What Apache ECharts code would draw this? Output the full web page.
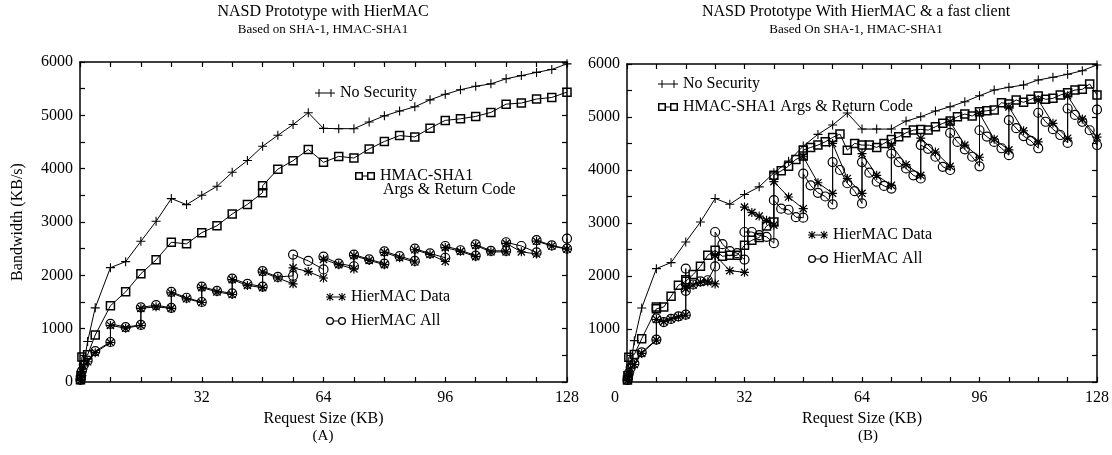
<!DOCTYPE html>
<html>
<head>
<meta charset="utf-8">
<script src="https://cdn.jsdelivr.net/npm/echarts@6/dist/echarts.min.js"></script>
<style>
  html, body { margin: 0; padding: 0; background: #fff; }
  #chart { width: 1112px; height: 455px; }
</style>
</head>
<body>
<div id="chart"></div>
<script>
// request size (KB) vs bandwidth (KB/s)
const noSecA = [[0.25,40],[0.5,120],[1,330],[2,760],[4,1390],[8,2144],[12,2257],[16,2638],[20,3013],[24,3439],[28,3326],[32,3501],[36,3669],[40,3932],[44,4152],[48,4420],[52,4626],[56,4827],[60,5050],[64,4755],[68,4750],[72,4750],[76,4875],[80,4990],[84,5080],[88,5160],[92,5290],[96,5395],[100,5480],[104,5545],[108,5590],[112,5685],[116,5745],[120,5805],[124,5860],[128,5965]];
const hmacA = [[0.125,40],[0.25,120],[0.5,470],[2,510],[4,880],[8,1430],[12,1690],[16,2030],[20,2290],[24,2620],[28,2590],[32,2800],[36,2930],[40,3150],[44,3330],[48,3550],[48,3680],[52,3990],[56,4150],[60,4360],[64,4120],[68,4230],[72,4200],[76,4370],[80,4510],[84,4620],[88,4595],[92,4760],[96,4905],[100,4935],[104,4980],[108,5055],[112,5210],[116,5230],[120,5305],[124,5335],[128,5435]];
const hierDataA = [[0.125,30],[0.25,80],[0.5,190],[1,300],[2,380],[4,550],[8,740],[8,1060],[12,1010],[16,1060],[16,1380],[20,1410],[24,1380],[24,1670],[28,1560],[32,1490],[32,1770],[36,1690],[40,1640],[40,1920],[44,1810],[48,1770],[48,2060],[52,1950],[56,1840],[56,2140],[60,2070],[64,1950],[64,2300],[68,2200],[72,2120],[72,2370],[76,2280],[80,2200],[80,2430],[84,2330],[88,2250],[88,2480],[92,2390],[96,2260],[96,2520],[100,2450],[104,2350],[104,2560],[108,2440],[112,2440],[112,2600],[116,2440],[120,2400],[120,2640],[124,2550],[128,2490]];
const hierAllA = [[0.125,40],[0.25,100],[0.5,210],[1,320],[2,400],[4,580],[8,750],[8,1090],[12,1030],[16,1070],[16,1400],[20,1440],[24,1390],[24,1690],[28,1580],[32,1500],[32,1790],[36,1710],[40,1660],[40,1940],[44,1840],[48,1790],[48,2080],[52,1970],[56,1990],[56,2390],[60,2270],[64,2110],[64,2350],[68,2220],[72,2170],[72,2390],[76,2300],[80,2220],[80,2450],[84,2360],[88,2270],[88,2500],[92,2410],[96,2330],[96,2550],[100,2470],[104,2370],[104,2580],[108,2460],[112,2460],[112,2620],[116,2550],[120,2430],[120,2660],[124,2560],[128,2500],[128,2690]];

const noSecB = [[0.25,40],[0.5,120],[1,330],[2,780],[4,1395],[8,2139],[12,2253],[16,2642],[20,3020],[24,3462],[28,3355],[32,3538],[36,3682],[40,3946],[44,4167],[48,4451],[52,4672],[56,4848],[60,5075],[64,4772],[68,4772],[72,4772],[76,4923],[80,5005],[84,5112],[88,5194],[92,5288],[96,5402],[100,5509],[104,5560],[108,5604],[112,5698],[116,5749],[120,5806],[124,5874],[128,5982]];
const hmacB = [[0.125,40],[0.25,120],[0.5,469],[2,520],[4,816],[8,1380],[8,1414],[10,1414],[12,1616],[14,1824],[16,1900],[16,1931],[18,2026],[20,2183],[22,2391],[24,2485],[26,2372],[28,2391],[30,2391],[32,2580],[34,2674],[36,2725],[38,2945],[40,3020],[40,3903],[42,3984],[44,4073],[46,4200],[48,4262],[48,4375],[50,4426],[52,4470],[54,4532],[56,4615],[58,4678],[60,4375],[62,4502],[64,4470],[66,4470],[68,4426],[70,4502],[72,4577],[74,4627],[76,4702],[78,4753],[80,4766],[82,4753],[84,4816],[86,4880],[88,4923],[90,5005],[92,5056],[94,5018],[96,5099],[98,5118],[100,5131],[102,5269],[104,5245],[106,5320],[108,5277],[110,5333],[112,5396],[114,5333],[116,5352],[118,5415],[120,5458],[122,5509],[124,5522],[126,5623],[128,5415]];
const hierDataB = [[0.125,30],[0.25,80],[0.5,150],[1,250],[2,330],[4,540],[8,790],[8,1180],[10,1140],[12,1190],[14,1230],[16,1260],[16,1760],[18,1830],[20,1880],[22,1890],[24,1850],[24,2390],[28,2100],[32,2070],[32,3300],[34,3200],[36,3130],[38,3050],[40,2960],[40,3780],[44,3490],[48,3270],[48,4250],[52,3760],[56,3560],[56,4500],[60,3840],[64,3560],[64,4310],[68,3900],[72,3710],[72,4470],[76,4100],[80,3900],[80,4600],[84,4340],[88,4070],[88,4910],[92,4470],[96,4240],[96,5070],[100,4580],[104,4380],[104,5190],[108,4740],[112,4530],[112,5320],[116,4880],[120,4600],[120,5400],[124,4960],[128,4620]];
const hierAllB = [[0.125,40],[0.25,90],[0.5,170],[1,270],[2,350],[4,560],[8,800],[8,1200],[10,1130],[12,1190],[14,1240],[16,1270],[16,2140],[16,1720],[18,1840],[20,1900],[22,1920],[24,2180],[24,2830],[26,2600],[28,2470],[30,2430],[32,2310],[32,2830],[34,2830],[36,2770],[38,2740],[40,2620],[40,3430],[42,3270],[44,3250],[46,3110],[48,3100],[48,3930],[50,3710],[52,3570],[54,3500],[56,3350],[56,4150],[58,4000],[60,3750],[62,3600],[64,3370],[64,4150],[66,3950],[68,3780],[70,3700],[72,3650],[72,4310],[74,4150],[76,4030],[78,3900],[80,3840],[80,4470],[82,4400],[84,4250],[86,4060],[88,4000],[88,4700],[90,4530],[92,4390],[94,4250],[96,4070],[96,4750],[98,4630],[100,4530],[102,4410],[104,4280],[104,4940],[106,4790],[108,4640],[110,4550],[112,4410],[112,5080],[114,4910],[116,4770],[118,4660],[120,4510],[120,5160],[122,5040],[124,4910],[126,4750],[128,4470],[128,5140]];

const FONT = "Liberation Serif";
const plusPath = "path://M4.4 0H5.6V4.4H10V5.6H5.6V10H4.4V5.6H0V4.4H4.4Z";
const starPath = "path://M0 4.35H10V5.65H0Z M4.35 0H5.65V10H4.35Z M1.5 0.5L9.5 8.5L8.5 9.5L0.5 1.5Z M8.5 0.5L9.5 1.5L1.5 9.5L0.5 8.5Z";
// legend keys: two symbols joined by a short line
const keyPlus = "path://M3.5 0H4.5V3.5H8V4.5H4.5V8H3.5V4.5H0V3.5H3.5Z M8 3.6H12V4.4H8Z M15.5 0H16.5V3.5H20V4.5H16.5V8H15.5V4.5H12V3.5H15.5Z";
const keyRect = "path://M0 0H8V8H0Z M1.5 1.5V6.5H6.5V1.5Z M8 3.6H12V4.4H8Z M12 0H20V8H12Z M13.5 1.5V6.5H18.5V1.5Z";
const keyStar = "path://M0 3.45H8V4.55H0Z M3.45 0H4.55V8H3.45Z M1.2 0.4L7.6 6.8L6.8 7.6L0.4 1.2Z M6.8 0.4L7.6 1.2L1.2 7.6L0.4 6.8Z M8 3.6H12V4.4H8Z M12 3.45H20V4.55H12Z M15.45 0H16.55V8H15.45Z M13.2 0.4L19.6 6.8L18.8 7.6L12.4 1.2Z M18.8 0.4L19.6 1.2L13.2 7.6L12.4 6.8Z";
const keyCircle = "path://M0 4A4 4 0 1 1 8 4A4 4 0 1 1 0 4Z M1.3 4A2.7 2.7 0 1 0 6.7 4A2.7 2.7 0 1 0 1.3 4Z M8 3.6H12V4.4H8Z M12 4A4 4 0 1 1 20 4A4 4 0 1 1 12 4Z M13.3 4A2.7 2.7 0 1 0 18.7 4A2.7 2.7 0 1 0 13.3 4Z";

const NAMES = ["No Security", "HMAC-SHA1 Args & Return Code", "HierMAC Data", "HierMAC All"];

// hollow symbols get a see-through fill so overlapping marks stay visible
function makeSeries(name, data, symbol, size, border, axis, hollow) {
  return {
    type: "line",
    name: name,
    data: data,
    xAxisIndex: axis,
    yAxisIndex: axis,
    symbol: symbol,
    symbolSize: size,
    clip: false,
    lineStyle: { color: "#000", width: 1 },
    itemStyle: { color: hollow ? "rgba(255,255,255,0)" : "#000", borderColor: "#000", borderWidth: border },
    emphasis: { disabled: true },
  };
}

function xAxisDef(grid, top, showZero) {
  return {
    type: "value",
    gridIndex: grid,
    position: top ? "top" : "bottom",
    min: 0,
    max: 128,
    interval: 32,
    name: top ? "" : "Request Size (KB)",
    nameLocation: "middle",
    nameGap: 26,
    nameTextStyle: { fontFamily: FONT, fontSize: 16, color: "#000" },
    axisLine: { show: true, onZero: false, lineStyle: { color: "#000", width: 1.5 } },
    axisTick: { show: true, inside: true, length: 5, lineStyle: { color: "#000", width: 1.2 } },
    minorTick: { show: true, splitNumber: 4, length: 5, lineStyle: { color: "#000", width: 1.2 } },
    splitLine: { show: false },
    axisLabel: {
      show: !top,
      fontFamily: FONT,
      fontSize: 16,
      color: "#000",
      margin: 8,
      formatter: (v) => (v === 0 ? (showZero ? "{z|0}" : "") : String(v)),
      rich: { z: { fontFamily: FONT, fontSize: 16, color: "#000", padding: [0, 24, 0, 0] } },
    },
  };
}

function yAxisDef(grid, right, showZero, name) {
  return {
    type: "value",
    gridIndex: grid,
    position: right ? "right" : "left",
    min: 0,
    max: 6000,
    interval: 1000,
    name: name || "",
    nameLocation: "middle",
    nameGap: 54,
    nameTextStyle: { fontFamily: FONT, fontSize: 16, color: "#000" },
    axisLine: { show: true, onZero: false, lineStyle: { color: "#000", width: 1.5 } },
    axisTick: { show: true, inside: true, length: 5, lineStyle: { color: "#000", width: 1.2 } },
    minorTick: { show: true, splitNumber: 2, length: 5, lineStyle: { color: "#000", width: 1.2 } },
    splitLine: { show: false },
    axisLabel: {
      show: !right,
      fontFamily: FONT,
      fontSize: 16,
      color: "#000",
      margin: 7,
      formatter: (v) => (v === 0 && !showZero ? "" : String(v)),
    },
  };
}

function legendAt(name, icon, left, top, label) {
  return {
    data: [{ name: name, icon: icon }],
    left: left,
    top: top,
    padding: 0,
    itemWidth: 20,
    itemHeight: 8,
    itemGap: 0,
    selectedMode: false,
    itemStyle: { color: "#000", borderWidth: 0 },
    formatter: label ? () => label : undefined,
    textStyle: { fontFamily: FONT, fontSize: 16, color: "#000", padding: [0, 0, 0, 0] },
  };
}

const chart = echarts.init(document.getElementById("chart"));
const option = {
  animation: false,
  backgroundColor: "#fff",
  textStyle: { fontFamily: FONT },
  grid: [
    { left: 80, right: 545, top: 62, bottom: 73 },
    { left: 627, right: 3, top: 64, bottom: 73 },
  ],
  xAxis: [xAxisDef(0, false, false), xAxisDef(0, true, false), xAxisDef(1, false, true), xAxisDef(1, true, true)],
  yAxis: [yAxisDef(0, false, true, "Bandwidth (KB/s)"), yAxisDef(0, true, true), yAxisDef(1, false, false), yAxisDef(1, true, false)],
  legend: [
    legendAt(NAMES[0], keyPlus, 315, 85),
    legendAt(NAMES[1], keyRect, 355, 168, "HMAC-SHA1"),
    legendAt(NAMES[2], keyStar, 326, 289),
    legendAt(NAMES[3], keyCircle, 326, 313),
    legendAt(NAMES[0], keyPlus, 658, 76),
    legendAt(NAMES[1], keyRect, 658, 99),
    legendAt(NAMES[2], keyStar, 808, 227),
    legendAt(NAMES[3], keyCircle, 808, 251),
  ],
  graphic: [
    { type: "text", left: 383, top: 182, style: { text: "Args & Return Code", font: "16px " + FONT, fill: "#000" } },
    { type: "text", x: 323, y: 4, style: { text: "NASD Prototype with HierMAC", font: "16px " + FONT, fill: "#000", textAlign: "center" } },
    { type: "text", x: 323, y: 23, style: { text: "Based on SHA-1, HMAC-SHA1", font: "13px " + FONT, fill: "#000", textAlign: "center" } },
    { type: "text", x: 856, y: 4, style: { text: "NASD Prototype With HierMAC & a fast client", font: "16px " + FONT, fill: "#000", textAlign: "center" } },
    { type: "text", x: 856, y: 23, style: { text: "Based On SHA-1, HMAC-SHA1", font: "13px " + FONT, fill: "#000", textAlign: "center" } },
    { type: "text", x: 323, y: 429, style: { text: "(A)", font: "15px " + FONT, fill: "#000", textAlign: "center" } },
    { type: "text", x: 868, y: 429, style: { text: "(B)", font: "15px " + FONT, fill: "#000", textAlign: "center" } },
  ],
  series: [
    makeSeries(NAMES[0], noSecA, plusPath, 9, 0, 0, false),
    makeSeries(NAMES[1], hmacA, "rect", 8, 1.5, 0, true),
    makeSeries(NAMES[2], hierDataA, starPath, 9, 0, 0, false),
    makeSeries(NAMES[3], hierAllA, "circle", 9, 1.2, 0, true),
    makeSeries(NAMES[0], noSecB, plusPath, 9, 0, 2, false),
    makeSeries(NAMES[1], hmacB, "rect", 8, 1.5, 2, true),
    makeSeries(NAMES[2], hierDataB, starPath, 9, 0, 2, false),
    makeSeries(NAMES[3], hierAllB, "circle", 9, 1.2, 2, true),
  ],
};
chart.setOption(option);
</script>
</body>
</html>
